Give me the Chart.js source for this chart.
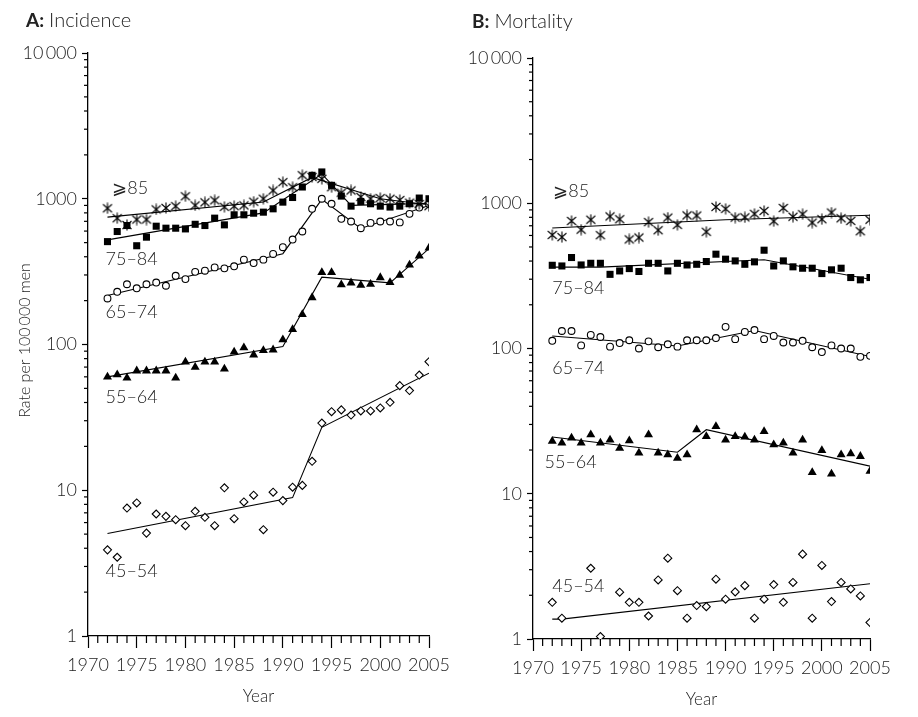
<!DOCTYPE html>
<html><head><meta charset="utf-8">
<script src="https://cdn.jsdelivr.net/npm/chart.js@4.4.1/dist/chart.umd.min.js"></script>
<style>
html,body{margin:0;padding:0;background:#fff;}
#wrap{position:relative;width:918px;height:717px;overflow:hidden;}
canvas{position:absolute;top:0;}
#cA{left:0;} #cB{left:459px;}
</style></head><body>
<div id="wrap"><canvas id="cA" width="459" height="717"></canvas><canvas id="cB" width="459" height="717"></canvas></div>
<script>
// ---------- data ----------
const years = [1972,1973,1974,1975,1976,1977,1978,1979,1980,1981,1982,1983,1984,1985,1986,1987,1988,1989,1990,1991,1992,1993,1994,1995,1996,1997,1998,1999,2000,2001,2002,2003,2004,2005];
const xTickLabels = [1970,1975,1980,1985,1990,1995,2000,2005];
const yTickLabels = [1,10,100,1000,10000];
const ageGroups = ['\u2A7E85','75\u201384','65\u201374','55\u201364','45\u201354'];

// A: incidence
const incA85 = [860,735,660,720,720,845,865,890,1040,900,945,975,880,890,900,955,1000,1140,1300,1200,1450,1410,1370,1200,1100,1140,1030,1000,1010,1000,980,940,920,890];
const incA75 = [508,596,655,476,545,648,628,628,621,668,655,736,662,776,776,796,809,853,948,1020,1204,1448,1527,1236,1043,890,958,924,890,877,890,924,1011,1000];
const incA65 = [207,230,259,243,259,266,253,296,281,315,321,338,333,344,382,362,382,418,465,525,596,853,1000,924,728,698,628,683,698,698,688,788,870,920];
const incA55 = [60,62,59,66,66,66,66,59,76,70,76,76,68,89,95,85,91,92,108,127,161,210,312,312,257,265,255,259,288,267,299,351,406,460];
const incA45 = [3.9,3.47,7.55,8.18,5.08,6.87,6.62,6.28,5.71,7.17,6.52,5.71,10.4,6.38,8.31,9.25,5.36,9.7,8.49,10.5,10.8,15.8,28.9,34.6,35.6,32.8,35.0,35.0,36.7,40.1,52.2,48.3,61.7,76.2];

// A: fitted trends (joinpoints)
const fitA85Years = [1972,1988,1993,2000,2005];  const fitA85 = [748,950,1400,1000,910];
const fitA75Years = [1972,1988,1994,1997,2005];  const fitA75 = [522,800,1480,900,930];
const fitA65Years = [1972,1990,1994,1998,2005];  const fitA65 = [217,420,990,625,900];
const fitA55Years = [1972,1990,1994,2001,2005];  const fitA55 = [60,97,290,265,455];
const fitA45Years = [1972,1991,1994,2005];       const fitA45 = [5.05,8.9,27,63.5];

// B: mortality
const morB85 = [605,585,755,658,770,603,812,776,564,581,742,652,797,710,825,823,636,944,915,797,800,845,886,752,928,808,840,736,776,863,788,756,642,770];
const morB75 = [374,370,423,376,386,386,324,342,355,339,386,386,342,386,376,380,397,446,412,401,380,395,475,370,401,365,357,357,328,348,357,308,297,308];
const morB65 = [113,132,132,105,124,120,103,109,114,100,112,102,107,103,114,114,114,118,141,116,130,134,116,122,110,110,113,102,94.5,105,100,100,87.6,89];
const morB55 = [23.0,22.4,24.2,22.4,25.5,22.4,23.5,20.6,23.2,19.1,25.5,19.1,18.6,17.6,18.6,27.6,24.8,29.1,23.5,24.8,24.6,23.5,26.9,21.8,22.4,19.1,23.5,14.0,19.9,13.7,18.6,18.9,18.1,14.3];
const morB45 = [1.79,1.39,null,null,3.07,1.04,null,2.10,1.79,1.79,1.44,2.55,3.60,2.15,1.39,1.70,1.67,2.58,1.88,2.11,2.33,1.39,1.88,2.37,1.79,2.45,3.84,1.39,3.21,1.81,2.45,2.21,1.98,1.30];

// B: fitted trends
const fitB85Years = [1972,1990,2005];            const fitB85 = [675,770,826];
const fitB75Years = [1972,1977,1994,2005];       const fitB75 = [363,363,408,300];
const fitB65Years = [1972,1985,1993,2005];       const fitB65 = [122,104,133,88];
const fitB55Years = [1972,1985,1988,2005];       const fitB55 = [24.6,19.3,27.6,15.5];
const fitB45Years = [1972,1973,2005];            const fitB45 = [1.37,1.37,2.4];

// label anchors (data coordinates)
const labelsA = [[1972.5,1188],[1971.8,386],[1971.8,167],[1971.8,43.6],[1971.8,2.78]];
const labelsB = [[1972.1,1211],[1972.0,260],[1972.0,73.3],[1971.2,16.5],[1972.0,2.32]];

// ---------- rendering ----------
const FONT = 'Lato, "DejaVu Sans", sans-serif';
const TXT = '#222';

function makeAsterisk(){
  const c = document.createElement('canvas'); c.width = 12; c.height = 12;
  const g = c.getContext('2d'); g.strokeStyle = '#000'; g.lineWidth = 1.1;
  g.beginPath();
  g.moveTo(1.5,2); g.lineTo(10.5,10); g.moveTo(10.5,2); g.lineTo(1.5,10);
  g.moveTo(6,0.5); g.lineTo(6,11.5);
  g.stroke(); return c;
}
const asterisk = makeAsterisk();

const pts = (vals) => years.map((y,i) => ({x:y, y:vals[i]})).filter(p => p.y != null);
const fit = (ys, vs) => ys.map((y,i) => ({x:y, y:vs[i]}));

function fmtY(v){ return v === 10000 ? '10\u2009000' : String(v); }

const xMinor = []; for (let y = 1971; y <= 2004; y++) if (xTickLabels.indexOf(y) < 0) xMinor.push(y);
const yMinor = []; for (let k = 0; k < 4; k++) for (let m = 2; m <= 9; m++) yMinor.push(m * Math.pow(10,k));

const decor = {
  id: 'decor',
  afterDraw(chart, args, o) {
    const ctx = chart.ctx, xs = chart.scales.x, ys = chart.scales.y;
    const ca = chart.chartArea;
    ctx.save();
    ctx.fillStyle = '#000';
    for (const v of xMinor) { const px = xs.getPixelForValue(v); ctx.fillRect(px - 0.6, ca.bottom, 1.2, 7); }
    for (const v of yMinor) { const py = ys.getPixelForValue(v); ctx.fillRect(ca.left - 4, py - 0.6, 4, 1.2); }
    ctx.fillStyle = TXT; ctx.textBaseline = 'middle'; ctx.textAlign = 'left';
    ctx.font = '300 18px ' + FONT;
    o.labels.forEach((l, i) => ctx.fillText(ageGroups[i], xs.getPixelForValue(l[0]), ys.getPixelForValue(l[1])));
    ctx.font = 'bold 19px ' + FONT;
    ctx.fillText(o.tb, o.tx, o.ty);
    const w = ctx.measureText(o.tb).width + 5;
    ctx.font = '300 20px ' + FONT;
    ctx.fillText(o.tr, o.tx + w, o.ty);
    ctx.restore();
  }
};

function makeChart(id, g, series, fits, labels, tb, tr, yTitle) {
  const markers = [
    {pointStyle: asterisk, radius: 6},
    {pointStyle: 'rect', radius: 5, bg: '#000', bw: 0},
    {pointStyle: 'circle', radius: 3.4, bg: '#fff', bw: 1.1},
    {pointStyle: 'triangle', radius: 5.2, bg: '#000', bw: 0},
    {pointStyle: 'rectRot', radius: 4, bg: '#fff', bw: 1.1}
  ];
  const datasets = [];
  series.forEach((s, i) => {
    const m = markers[i];
    datasets.push({data: pts(s), pointStyle: m.pointStyle, pointRadius: m.radius,
      pointBackgroundColor: m.bg || '#000', pointBorderColor: '#000', pointBorderWidth: m.bw || 0, showLine: false, order: 0});
  });
  fits.forEach(f => datasets.push({data: fit(f[0], f[1]), showLine: true, pointRadius: 0, borderColor: '#000', borderWidth: 1.1, order: 1}));

  return new Chart(document.getElementById(id), {
    type: 'scatter',
    data: {datasets},
    plugins: [decor],
    options: {
      responsive: false, animation: false, devicePixelRatio: 1,
      layout: {padding: {left: 0, top: g.top, right: 459 - g.right, bottom: 0}},
      plugins: {legend: {display: false}, tooltip: {enabled: false},
        decor: {labels, tb, tr, tx: g.tx, ty: g.ty}},
      scales: {
        x: {type: 'linear', min: 1970, max: 2005, position: 'bottom',
          afterBuildTicks: s => { s.ticks = xTickLabels.map(v => ({value: v})); },
          afterFit: s => { s.height = 717 - g.bottom; s.paddingLeft = 0; s.paddingRight = 0; },
          ticks: {autoSkip: false, maxRotation: 0, padding: 6, color: TXT, font: {family: FONT, size: 18, weight: '300'},
            callback: v => String(v)},
          grid: {drawOnChartArea: false, tickLength: 12, tickColor: '#000', tickWidth: 1.2},
          border: {color: '#000', width: 1.3},
          title: {display: true, text: 'Year', color: TXT, font: {family: FONT, size: 17, weight: '300'}, padding: {top: 0, bottom: g.yearPad}}
        },
        y: {type: 'logarithmic', min: 1, max: 10000, position: 'left',
          afterBuildTicks: s => { s.ticks = yTickLabels.map(v => ({value: v})); },
          afterFit: s => { s.width = g.left; s.paddingTop = 0; s.paddingBottom = 0; },
          ticks: {autoSkip: false, padding: 5, color: TXT, font: {family: FONT, size: 18, weight: '300'}, callback: v => fmtY(v)},
          grid: {drawOnChartArea: false, tickLength: 6, tickColor: '#000', tickWidth: 1.2},
          border: {color: '#000', width: 1.3},
          title: {display: !!yTitle, text: yTitle || '', color: TXT, font: {family: FONT, size: 16, weight: '300'}, padding: {top: 15, bottom: 0}}
        }
      }
    }
  });
}

makeChart('cA', {left: 88, right: 429, top: 53, bottom: 636, tx: 26, ty: 21, yearPad: 10},
  [incA85, incA75, incA65, incA55, incA45],
  [[fitA85Years, fitA85], [fitA75Years, fitA75], [fitA65Years, fitA65], [fitA55Years, fitA55], [fitA45Years, fitA45]],
  labelsA, 'A:', 'Incidence', '\u2002Rate per 100\u2009000 men');

makeChart('cB', {left: 74, right: 411, top: 58, bottom: 639, tx: 13, ty: 22, yearPad: 7},
  [morB85, morB75, morB65, morB55, morB45],
  [[fitB85Years, fitB85], [fitB75Years, fitB75], [fitB65Years, fitB65], [fitB55Years, fitB55], [fitB45Years, fitB45]],
  labelsB, 'B:', 'Mortality', null);
</script>
</body></html>
